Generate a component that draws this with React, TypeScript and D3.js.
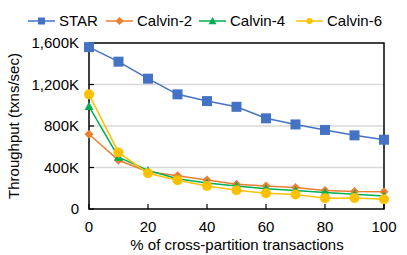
import { useEffect, useRef } from 'react';
import * as d3 from 'd3';

const xs = [0, 10, 20, 30, 40, 50, 60, 70, 80, 90, 100];
const star = [1560, 1420, 1256, 1105, 1040, 985, 874, 815, 762, 710, 668];
const calvin2 = [720, 470, 360, 320, 280, 238, 222, 208, 178, 168, 166];
const calvin4 = [990, 500, 372, 292, 250, 222, 195, 178, 160, 142, 125];
const calvin6 = [1105, 545, 344, 278, 222, 180, 152, 140, 104, 106, 94];
const xTicks = [0, 20, 40, 60, 80, 100];
const yTicks = [0, 400, 800, 1200, 1600];

const seriesList = [
  { name: 'STAR', values: star, color: '#4472C4', marker: 'square' },
  { name: 'Calvin-2', values: calvin2, color: '#ED7D31', marker: 'diamond' },
  { name: 'Calvin-4', values: calvin4, color: '#00B050', marker: 'triangle' },
  { name: 'Calvin-6', values: calvin6, color: '#FFC000', marker: 'circle' },
];

const legendX = [28, 106, 199, 296];

export default function App() {
  const svgRef = useRef<SVGSVGElement>(null);

  useEffect(() => {
    if (!svgRef.current) return;
    const svg = d3.select(svgRef.current);
    svg.selectAll('*').remove();

    const font = '"Liberation Sans", Arial, sans-serif';
    const fs = '15px';
    const left = 89, right = 384, top = 43, bottom = 209;

    const x = d3.scaleLinear().domain([0, 100]).range([left, right]);
    const y = d3.scaleLinear().domain([0, 1600]).range([bottom, top]);

    // Gridlines
    svg.append('g')
      .selectAll('line')
      .data(yTicks.filter(t => t > 0 && t < 1600))
      .join('line')
      .attr('x1', left).attr('x2', right)
      .attr('y1', d => y(d)).attr('y2', d => y(d))
      .attr('stroke', '#d9d9d9').attr('stroke-width', 1.5);

    // Frame
    svg.append('rect')
      .attr('x', left).attr('y', top)
      .attr('width', right - left).attr('height', bottom - top)
      .attr('fill', 'none').attr('stroke', '#000').attr('stroke-width', 1.5);

    // Y ticks (inward) and labels
    svg.append('g')
      .selectAll('line')
      .data(yTicks)
      .join('line')
      .attr('x1', left).attr('x2', left + 5)
      .attr('y1', d => y(d)).attr('y2', d => y(d))
      .attr('stroke', '#000').attr('stroke-width', 1.2);

    svg.append('g')
      .selectAll('text')
      .data(yTicks)
      .join('text')
      .attr('x', left - 10)
      .attr('y', d => y(d))
      .attr('dy', '0.35em')
      .attr('text-anchor', 'end')
      .style('font-family', font)
      .style('font-size', fs)
      .text(d => (d === 0 ? '0' : `${d3.format(',')(d)}K`));

    // X ticks and labels
    svg.append('g')
      .selectAll('line')
      .data(xTicks)
      .join('line')
      .attr('x1', d => x(d)).attr('x2', d => x(d))
      .attr('y1', bottom).attr('y2', bottom - 5)
      .attr('stroke', '#000').attr('stroke-width', 1.2);

    svg.append('g')
      .selectAll('text')
      .data(xTicks)
      .join('text')
      .attr('x', d => x(d))
      .attr('y', 227)
      .attr('dy', '0.35em')
      .attr('text-anchor', 'middle')
      .style('font-family', font)
      .style('font-size', fs)
      .text(d => d);

    // Axis titles
    svg.append('text')
      .attr('x', 237)
      .attr('y', 245)
      .attr('dy', '0.35em')
      .attr('text-anchor', 'middle')
      .style('font-family', font)
      .style('font-size', fs)
      .text('% of cross-partition transactions');

    svg.append('text')
      .attr('transform', `translate(14,${(top + bottom) / 2}) rotate(-90)`)
      .attr('dy', '0.35em')
      .attr('text-anchor', 'middle')
      .style('font-family', font)
      .style('font-size', fs)
      .text('Throughput (txns/sec)');

    const drawMarker = (g: any, type: string, color: string, cx: number, cy: number, s: number) => {
      if (type === 'square') {
        g.append('rect').attr('x', cx - s / 2).attr('y', cy - s / 2)
          .attr('width', s).attr('height', s).attr('fill', color);
      } else if (type === 'diamond') {
        const r = s / 2 + 0.5;
        g.append('path').attr('d', `M${cx},${cy - r}L${cx + r},${cy}L${cx},${cy + r}L${cx - r},${cy}Z`)
          .attr('fill', color);
      } else if (type === 'triangle') {
        const r = s / 2 + 0.5;
        g.append('path').attr('d', `M${cx},${cy - r}L${cx + r},${cy + r * 0.8}L${cx - r},${cy + r * 0.8}Z`)
          .attr('fill', color);
      } else {
        g.append('circle').attr('cx', cx).attr('cy', cy).attr('r', s / 2).attr('fill', color);
      }
    };

    const line = d3.line<number>()
      .x((_, i) => x(xs[i]))
      .y(d => y(d));

    const markerSize: Record<string, number> = { square: 10, diamond: 8, triangle: 8, circle: 10 };

    seriesList.forEach(s => {
      const g = svg.append('g');
      g.append('path')
        .datum(s.values)
        .attr('d', line)
        .attr('fill', 'none')
        .attr('stroke', s.color)
        .attr('stroke-width', 1.5);
      s.values.forEach((v, i) => drawMarker(g, s.marker, s.color, x(xs[i]), y(v), markerSize[s.marker]));
    });

    // Legend
    seriesList.forEach((s, i) => {
      const lx = legendX[i];
      const ly = 21;
      const g = svg.append('g');
      g.append('line').attr('x1', lx).attr('x2', lx + 27).attr('y1', ly).attr('y2', ly)
        .attr('stroke', s.color).attr('stroke-width', 1.5);
      drawMarker(g, s.marker, s.color, lx + 13.5, ly, s.marker === 'circle' ? 6 : 7);
      g.append('text')
        .attr('x', lx + 31)
        .attr('y', ly)
        .attr('dy', '0.35em')
        .style('font-family', font)
        .style('font-size', fs)
        .text(s.name);
    });
  }, []);

  return <svg ref={svgRef} width={407} height={255} style={{ display: 'block', position: 'absolute', left: 0, top: 0 }} />;
}
